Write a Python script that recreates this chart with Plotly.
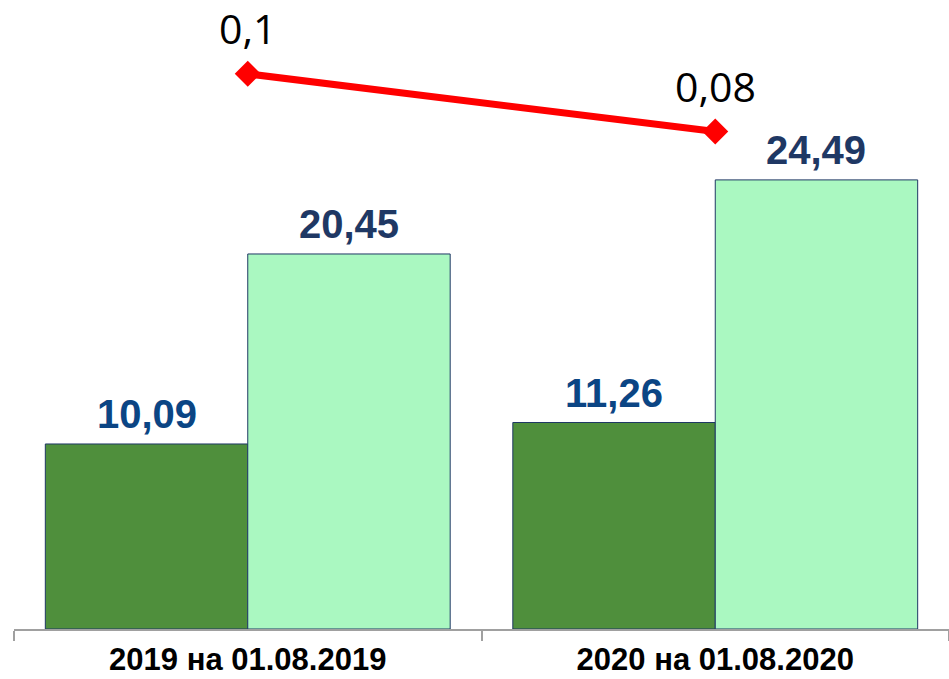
import plotly.graph_objects as go

categories = ["2019 на 01.08.2019", "2020 на 01.08.2020"]
series_a = [10.09, 11.26]
series_b = [20.45, 24.49]
ratio = [0.1, 0.08]

def fmt(v):
    s = ("%.2f" % v).rstrip("0").rstrip(".") if v < 1 else "%.2f" % v
    return s.replace(".", ",")

fig = go.Figure()
fig.add_trace(go.Bar(x=categories, y=series_a, marker=dict(color="#4F8F3C", line=dict(color="#1F3864", width=1)),
                     showlegend=False, hoverinfo="skip"))
fig.add_trace(go.Bar(x=categories, y=series_b, marker=dict(color="#AAF8C1", line=dict(color="#1F3864", width=1)),
                     showlegend=False, hoverinfo="skip"))
fig.add_trace(go.Scatter(x=categories, y=ratio, yaxis="y2", mode="lines+markers",
                         line=dict(color="#FF0000", width=7),
                         marker=dict(symbol="diamond", size=20, color="#FF0000"),
                         showlegend=False, hoverinfo="skip"))

annotations = []
for c, v in zip(categories, series_a):
    annotations.append(dict(x=c, y=v, xref="x", yref="y", text="<b>%s</b>" % fmt(v), showarrow=False,
                            xshift=-101, yanchor="bottom", yshift=6,
                            font=dict(family="Liberation Sans, Arial, sans-serif", size=40, color="#0B4584")))
for c, v in zip(categories, series_b):
    annotations.append(dict(x=c, y=v, xref="x", yref="y", text="<b>%s</b>" % fmt(v), showarrow=False,
                            xshift=101, yanchor="bottom", yshift=6,
                            font=dict(family="Liberation Sans, Arial, sans-serif", size=40, color="#1F3864")))
for c, v in zip(categories, ratio):
    annotations.append(dict(x=c, y=v, xref="x", yref="y2", text=fmt(v), showarrow=False,
                            yanchor="bottom", yshift=16,
                            font=dict(family="Open Sans, sans-serif", size=41, color="#000000")))

fig.update_layout(
    width=949, height=679,
    margin=dict(l=14, r=0, t=0, b=50),
    paper_bgcolor="white", plot_bgcolor="white",
    barmode="group", bargap=0.134, bargroupgap=0,
    xaxis=dict(showline=True, linecolor="#A0A0A0", linewidth=2, ticks="outside", tickson="boundaries",
               ticklen=10, tickcolor="#A0A0A0", tickwidth=2, showgrid=False, automargin=False,
               ticklabelstandoff=2,
               tickfont=dict(family="Liberation Sans, Arial, sans-serif", size=31, color="#000000"),
               tickprefix="<b>", ticksuffix="</b>"),
    yaxis=dict(range=[0, 34.3], visible=False, showgrid=False),
    yaxis2=dict(range=[-0.0924, 0.1256], overlaying="y", visible=False, showgrid=False),
    annotations=annotations,
)

fig.write_html("out.html", config={"displayModeBar": False},
               post_script="document.body.style.margin='0';document.body.style.padding='0';")
